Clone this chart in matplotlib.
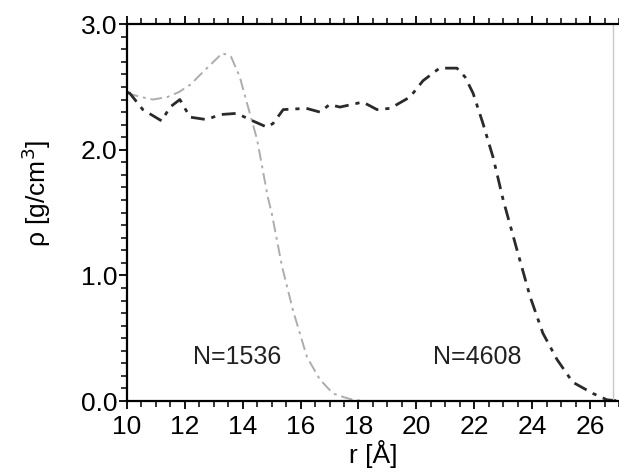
#%% Import modules
import numpy as np
import matplotlib.pyplot as plt
from matplotlib.ticker import MultipleLocator

plt.rcParams['font.family'] = ['Liberation Sans', 'DejaVu Sans']

#%% Data
r_1536 = [10.0, 10.5, 10.9, 11.4, 11.8, 12.2, 12.5, 12.9, 13.3, 13.6, 13.9, 14.15, 14.5, 14.87,
          15.0, 15.36, 15.74, 16.22, 16.67, 17.12, 17.5, 17.8, 18.2]
rho_1536 = [2.45, 2.42, 2.40, 2.42, 2.46, 2.52, 2.59, 2.68, 2.77, 2.74, 2.58, 2.37, 2.08, 1.62,
            1.50, 1.07, 0.72, 0.35, 0.17, 0.06, 0.03, 0.01, 0.0]

r_4608 = [10.0, 10.1, 10.55, 11.2, 11.49, 11.83, 12.18, 12.76, 13.2, 13.8, 14.25, 14.84, 15.05,
          15.4, 16.2, 16.67, 17.0, 17.36, 17.95, 18.15, 18.64, 19.1, 19.78, 20.23, 20.8, 21.4,
          21.68, 21.96, 22.3, 22.65, 23.0, 23.48, 23.93, 24.37, 24.86, 25.4, 26.1, 26.58, 27.0]
rho_4608 = [2.46, 2.45, 2.32, 2.23, 2.34, 2.40, 2.26, 2.24, 2.28, 2.29, 2.24, 2.18, 2.21,
            2.32, 2.33, 2.30, 2.36, 2.34, 2.37, 2.38, 2.32, 2.33, 2.42, 2.55, 2.65, 2.65,
            2.58, 2.45, 2.21, 1.94, 1.60, 1.20, 0.83, 0.54, 0.33, 0.15, 0.06, 0.01, 0.0]

labels = ['N=1536', 'N=4608']
label_x = [13.8, 22.1]
label_y = [0.35, 0.35]

#%% Plot
fig = plt.figure(figsize=(6.19, 4.74), dpi=100)
ax = fig.add_axes([0.205, 0.154, 0.795, 0.795])

ax.plot(r_1536, rho_1536, color='#adadad', lw=1.4, dashes=[6, 2.5, 1.5, 2.5])
ax.plot(r_4608, rho_4608, color='#2a2a2a', lw=2.0, dashes=[5, 2.5, 1.5, 2.5])

for t, x, y in zip(labels, label_x, label_y):
    ax.text(x, y, t, fontsize=18, ha='center', va='center', color='#222222')

# faint frame line on the right, as in the scan
ax.axvline(26.8, color='#c8c8c8', lw=1.0)

ax.set_xlim(10, 27)
ax.set_ylim(0, 3)
ax.xaxis.set_major_locator(MultipleLocator(2))
ax.xaxis.set_minor_locator(MultipleLocator(0.5))
ax.yaxis.set_minor_locator(MultipleLocator(0.1))
ax.set_yticks([0, 1, 2, 3])
ax.set_yticklabels(['0.0', '1.0', '2.0', '3.0'])

ax.tick_params(axis='both', which='major', labelsize=19, length=6, width=1.3, direction='out', pad=1)
ax.tick_params(axis='both', which='minor', length=4, width=1.1, direction='out')
ax.tick_params(axis='x', top=True, which='both')
ax.tick_params(axis='x', which='major', pad=4)

ax.set_xlabel('r [Å]', fontsize=19, labelpad=1)
ax.set_ylabel('ρ [g/cm$^3$]', fontsize=19)
ax.yaxis.set_label_coords(-0.15, 0.55)

for s in ['left', 'bottom', 'top']:
    ax.spines[s].set_linewidth(1.6)
ax.spines['right'].set_visible(False)

fig.savefig('out.png', dpi=100)
